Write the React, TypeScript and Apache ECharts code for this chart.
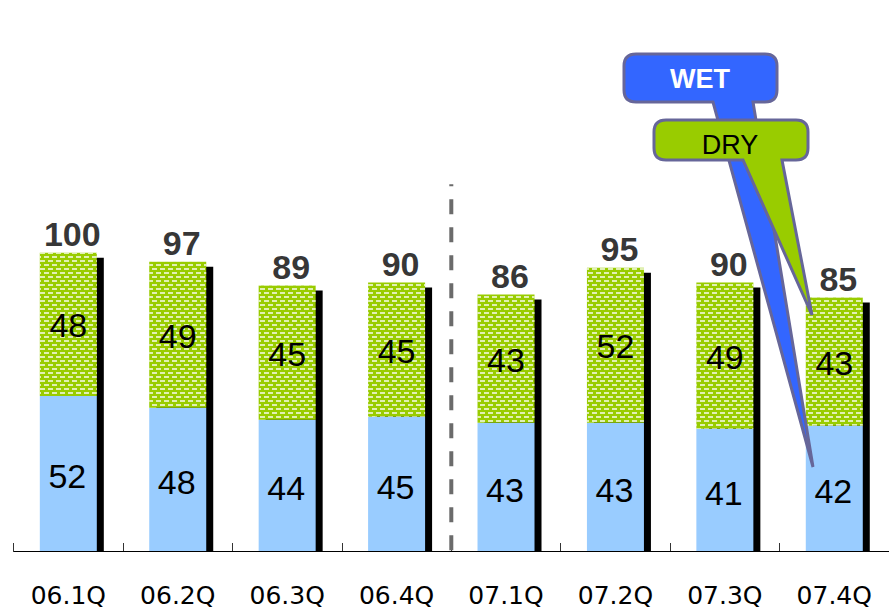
import React, { useEffect, useRef } from "react";
import * as echarts from "echarts";

const categories = ["06.1Q", "06.2Q", "06.3Q", "06.4Q", "07.1Q", "07.2Q", "07.3Q", "07.4Q"];
const wetValues = [52, 48, 44, 45, 43, 43, 41, 42];
const dryValues = [48, 49, 45, 45, 43, 52, 49, 43];
const totalValues = [100, 97, 89, 90, 86, 95, 90, 85];

const Y_MAX = 180;
const DIVIDER_TOP_VALUE = 123;
const BAR_W = 57;

const WET_PATH =
  "M636 54 H765 Q777 54 777 66 V90 Q777 102 765 102 H753 L813 467 L713 102 H636 Q624 102 624 90 V66 Q624 54 636 54 Z";
const DRY_PATH =
  "M666 120 H796 Q808 120 808 132 V148 Q808 160 796 160 H782 L812 315 L743 160 H666 Q654 160 654 148 V132 Q654 120 666 120 Z";

echarts.graphic.registerShape("wetCallout", echarts.graphic.extendPath(WET_PATH, {}));
echarts.graphic.registerShape("dryCallout", echarts.graphic.extendPath(DRY_PATH, {}));

const NUM_FONT = "'Liberation Sans', Arial, sans-serif";

export default function App() {
  const ref = useRef<HTMLDivElement>(null);
  useEffect(() => {
    if (!ref.current) return;
    const chart = echarts.init(ref.current, null, { renderer: "svg" });
    const option: any = {
      animation: false,
      backgroundColor: "#ffffff",
      grid: { left: 13.6, width: 879, top: 551 - 2.982 * Y_MAX, height: 2.982 * Y_MAX },
      xAxis: {
        type: "category",
        data: categories,
        axisLine: { show: true, lineStyle: { color: "#000", width: 1 } },
        axisTick: { show: true, inside: true, length: 8, lineStyle: { color: "#333", width: 1 } },
        axisLabel: {
          margin: 32,
          fontSize: 25,
          color: "#000",
          fontFamily: "'DejaVu Sans', sans-serif",
        },
        splitLine: { show: false },
      },
      yAxis: {
        type: "value",
        min: 0,
        max: Y_MAX,
        show: false,
        splitLine: { show: false },
      },
      series: [
        {
          type: "custom",
          name: "shadow",
          z: 1,
          data: totalValues.map((t, i) => [i, t]),
          encode: { x: 0, y: 1 },
          renderItem: (params: any, api: any) => {
            const idx = api.value(0);
            const total = api.value(1);
            const top = api.coord([idx, total]);
            const base = api.coord([idx, 0]);
            return {
              type: "rect",
              shape: {
                x: top[0] - BAR_W / 2 + 7,
                y: top[1] + 5,
                width: BAR_W,
                height: base[1] - top[1] - 5,
              },
              style: { fill: "#000000" },
            };
          },
        },
        {
          type: "bar",
          name: "WET",
          stack: "total",
          z: 2,
          barWidth: BAR_W,
          data: wetValues,
          itemStyle: { color: "#99ccff" },
          label: {
            show: true,
            position: "inside",
            offset: [-1, 3],
            fontSize: 34,
            color: "#000",
            fontFamily: NUM_FONT,
          },
        },
        {
          type: "bar",
          name: "DRY",
          stack: "total",
          z: 2,
          barWidth: BAR_W,
          data: dryValues,
          itemStyle: {
            color: "#99cc00",
            decal: {
              symbol: "rect",
              symbolSize: 1,
              color: "rgba(255,255,255,0.7)",
              dashArrayX: [[5, 3], [1, 3, 4, 0]],
              dashArrayY: [2, 2],
              rotation: 0,
            },
          },
          label: {
            show: true,
            position: "inside",
            offset: [0, 1],
            fontSize: 34,
            color: "#000",
            fontFamily: NUM_FONT,
          },
        },
        {
          type: "scatter",
          name: "total",
          z: 3,
          symbolSize: 0,
          data: totalValues,
          label: {
            show: true,
            position: "top",
            distance: 2,
            offset: [4, 0],
            fontSize: 34,
            fontWeight: "bold",
            color: "#000",
            fontFamily: NUM_FONT,
          },
        },
      ],
    };
    chart.setOption(option);

    const x3 = chart.convertToPixel({ xAxisIndex: 0 }, 3) as number;
    const x4 = chart.convertToPixel({ xAxisIndex: 0 }, 4) as number;
    const xDiv = (x3 + x4) / 2;
    const yTop = chart.convertToPixel({ yAxisIndex: 0 }, DIVIDER_TOP_VALUE) as number;
    const yBottom = chart.convertToPixel({ yAxisIndex: 0 }, 0) as number;

    chart.setOption({
      graphic: [
        {
          type: "line",
          z: 5,
          shape: { x1: xDiv, y1: yTop, x2: xDiv, y2: yBottom },
          style: { stroke: "#6b6b6b", lineWidth: 4, lineDash: [15, 13], lineDashOffset: 13 },
        },
        {
          type: "wetCallout",
          z: 10,
          style: { fill: "#3366ff", stroke: "#666699", lineWidth: 3 },
        },
        {
          type: "text",
          z: 11,
          x: 700,
          y: 79,
          style: {
            text: "WET",
            fill: "#ffffff",
            fontSize: 27,
            fontWeight: "bold",
            fontFamily: NUM_FONT,
            align: "center",
            verticalAlign: "middle",
          },
        },
        {
          type: "dryCallout",
          z: 12,
          style: { fill: "#99cc00", stroke: "#666699", lineWidth: 3 },
        },
        {
          type: "text",
          z: 13,
          x: 730,
          y: 145,
          style: {
            text: "DRY",
            fill: "#000000",
            fontSize: 27,
            fontFamily: NUM_FONT,
            align: "center",
            verticalAlign: "middle",
          },
        },
      ],
    });

    return () => chart.dispose();
  }, []);
  return (
    <div
      ref={ref}
      style={{ position: "fixed", left: 0, top: 0, width: 889, height: 611, background: "#fff" }}
    />
  );
}
